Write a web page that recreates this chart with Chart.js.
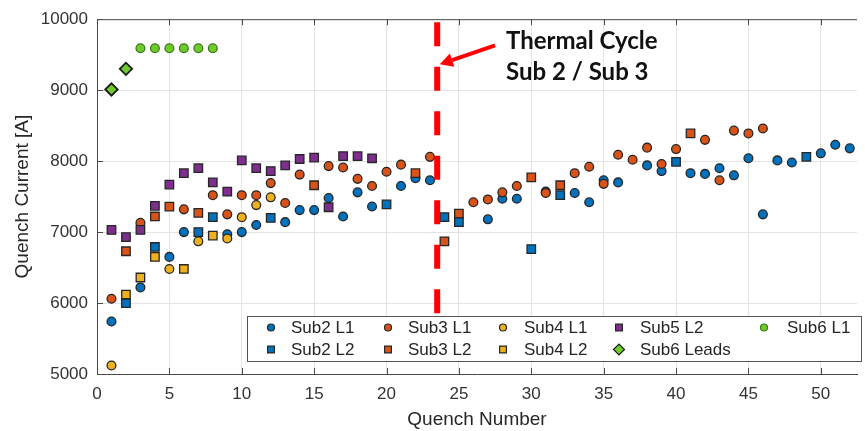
<!DOCTYPE html>
<html><head><meta charset="utf-8">
<script src="https://cdn.jsdelivr.net/npm/chart.js@4/dist/chart.umd.min.js"></script>
<style>html,body{margin:0;padding:0;background:#fff}</style>
</head><body>
<canvas id="c" width="865" height="431"></canvas>
<script>
// ---- data ----
const sub2L1X = [1,3,5,6,9,10,11,13,14,15,16,17,18,19,21,22,23,27,28,29,31,33,34,35,36,38,39,41,42,43,44,45,46,47,48,50,51,52];
const sub2L1Y = [5740,6220,6650,7000,6970,7000,7100,7140,7310,7310,7480,7220,7560,7360,7650,7760,7730,7180,7470,7470,7570,7550,7420,7730,7700,7940,7860,7830,7820,7900,7800,8040,7250,8010,7980,8110,8230,8180];
const sub2L2X = [2,4,7,8,12,20,24,25,30,32,40,49];
const sub2L2Y = [6000,6790,7000,7210,7200,7390,7210,7140,6760,7520,7990,8060];
const sub3L1X = [1,3,6,8,9,10,11,12,13,14,16,17,18,19,20,21,23,26,27,28,29,31,33,34,35,36,37,38,39,40,42,43,44,45,46];
const sub3L1Y = [6060,7130,7320,7520,7250,7520,7520,7690,7410,7810,7930,7910,7750,7650,7850,7950,8060,7420,7460,7560,7650,7550,7830,7920,7680,8090,8020,8190,7960,8170,8300,7730,8430,8390,8460];
const sub3L2X = [2,4,5,7,15,22,24,25,30,32,41];
const sub3L2Y = [6730,7220,7360,7270,7660,7830,6870,7260,7770,7660,8390];
const sub4L1X = [1,5,7,9,10,11,12];
const sub4L1Y = [5120,6480,6870,6910,7210,7380,7490];
const sub4L2X = [2,3,4,6,8];
const sub4L2Y = [6120,6360,6650,6480,6950];
const sub5L2X = [1,2,3,4,5,6,7,8,9,10,11,12,13,14,15,16,17,18,19];
const sub5L2Y = [7030,6930,7030,7370,7670,7830,7900,7700,7570,8010,7900,7860,7940,8030,8050,7350,8070,8070,8040];
const sub6L1X = [3,4,5,6,7,8];
const sub6L1Y = [9590,9590,9590,9590,9590,9590];
const sub6LeadsX = [1,2];
const sub6LeadsY = [9010,9300];

const xTicks = [0,5,10,15,20,25,30,35,40,45,50];
const yTicks = [5000,6000,7000,8000,9000,10000];
const thermalCycleX = 23.5;
const xLabel = 'Quench Number';
const yLabel = 'Quench Current [A]';
const noteLines = ['Thermal Cycle', 'Sub 2 / Sub 3'];

const toPts = (xs, ys) => xs.map((v, i) => ({x: v, y: ys[i]}));

const C = {
  blue: '#0072BD', orange: '#D95319', yellow: '#EDB120',
  purple: '#7E2F8E', green: '#6DCB2C'
};

// legend layout (row, column) and draw order (bottom -> top)
const series = [
  {label:'Sub2 L1', pts: toPts(sub2L1X, sub2L1Y), color:C.blue, style:'circle', r:4.4, row:0, col:0, z:0},
  {label:'Sub3 L1', pts: toPts(sub3L1X, sub3L1Y), color:C.orange, style:'circle', r:4.4, row:0, col:1, z:1},
  {label:'Sub4 L1', pts: toPts(sub4L1X, sub4L1Y), color:C.yellow, style:'circle', r:4.4, row:0, col:2, z:2},
  {label:'Sub5 L2', pts: toPts(sub5L2X, sub5L2Y), color:C.purple, style:'rect', r:6, row:0, col:3, z:3},
  {label:'Sub6 L1', pts: toPts(sub6L1X, sub6L1Y), color:C.green, style:'circle', r:4.4, row:0, col:4, z:4, border:'#3d7a18'},
  {label:'Sub2 L2', pts: toPts(sub2L2X, sub2L2Y), color:C.blue, style:'rect', r:6, row:1, col:0, z:6},
  {label:'Sub3 L2', pts: toPts(sub3L2X, sub3L2Y), color:C.orange, style:'rect', r:6, row:1, col:1, z:5},
  {label:'Sub4 L2', pts: toPts(sub4L2X, sub4L2Y), color:C.yellow, style:'rect', r:6, row:1, col:2, z:7},
  {label:'Sub6 Leads', pts: toPts(sub6LeadsX, sub6LeadsY), color:C.green, style:'rectRot', r:6.2, row:1, col:3, z:8, bw:1.8, border:'#1a1a1a'}
];

const datasets = series.map(s => ({
  label: s.label,
  data: s.pts,
  showLine: false,
  pointStyle: s.style,
  pointRadius: s.r,
  pointHoverRadius: s.r,
  backgroundColor: s.color,
  borderColor: s.border || '#262626',
  pointBorderWidth: s.bw || 1.3,
  borderWidth: s.bw || 1.3,
  order: 20 - s.z
}));

const FONT = '"Liberation Sans", Arial, sans-serif';

const overlay = {
  id: 'overlay',
  beforeDatasetsDraw(chart) {
    const {ctx, chartArea: a, scales: {x, y}} = chart;
    ctx.save();
    ctx.strokeStyle = '#4a4a4a';
    ctx.lineWidth = 1;
    ctx.beginPath();
    ctx.moveTo(a.left, a.top + 0.5); ctx.lineTo(a.right, a.top + 0.5);
    for (const v of xTicks) {
      const px = Math.round(x.getPixelForValue(v)) + 0.5;
      ctx.moveTo(px, a.bottom); ctx.lineTo(px, a.bottom - 6);
      ctx.moveTo(px, a.top); ctx.lineTo(px, a.top + 6);
    }
    for (const v of yTicks) {
      const py = Math.round(y.getPixelForValue(v)) + 0.5;
      ctx.moveTo(a.left, py); ctx.lineTo(a.left + 6, py);
    }
    ctx.stroke();
    ctx.restore();
  },
  afterDatasetsDraw(chart) {
    const {ctx, chartArea: a, scales: {x, y}} = chart;
    ctx.save();
    // red dashed thermal-cycle line
    const lx = x.getPixelForValue(thermalCycleX);
    ctx.strokeStyle = '#ff0000';
    ctx.lineWidth = 6;
    ctx.setLineDash([24, 20.5]);
    ctx.beginPath();
    ctx.moveTo(lx, a.top + 3); ctx.lineTo(lx, a.bottom);
    ctx.stroke();
    ctx.setLineDash([]);
    // arrow
    const tx = x.getPixelForValue(27.5), ty = y.getPixelForValue(9630);
    const hx = x.getPixelForValue(23.68), hy = y.getPixelForValue(9365);
    const ang = Math.atan2(hy - ty, hx - tx);
    const hl = 13, hw = 7;
    const bx = hx - hl * Math.cos(ang), by = hy - hl * Math.sin(ang);
    ctx.strokeStyle = '#ff0000'; ctx.fillStyle = '#ff0000';
    ctx.lineWidth = 4;
    ctx.beginPath(); ctx.moveTo(tx, ty); ctx.lineTo(bx, by); ctx.stroke();
    ctx.beginPath();
    ctx.moveTo(hx, hy);
    ctx.lineTo(bx + hw * Math.sin(ang), by - hw * Math.cos(ang));
    ctx.lineTo(bx - hw * Math.sin(ang), by + hw * Math.cos(ang));
    ctx.closePath(); ctx.fill();
    // annotation text
    ctx.fillStyle = '#111';
    ctx.font = 'bold 24px Lato, "Open Sans", sans-serif';
    ctx.textBaseline = 'alphabetic';
    ctx.textAlign = 'left';
    const nx = x.getPixelForValue(28.25);
    ctx.fillText(noteLines[0], nx, 49);
    ctx.fillText(noteLines[1], nx, 80);

    // legend box
    const L = {x: 247, y: 316, w: 614, h: 45};
    ctx.fillStyle = '#fff';
    ctx.fillRect(L.x, L.y, L.w, L.h);
    ctx.strokeStyle = '#555';
    ctx.lineWidth = 1;
    ctx.strokeRect(L.x + 0.5, L.y + 0.5, L.w, L.h);
    const mx = [271, 388, 503, 619, 764];
    const txs = [291, 408, 524, 640, 787];
    const rows = [327.5, 349.5];
    ctx.font = '17px ' + FONT;
    ctx.textBaseline = 'middle';
    for (const s of series) {
      const px = mx[s.col], py = rows[s.row];
      ctx.fillStyle = s.color;
      ctx.strokeStyle = s.border || '#262626';
      ctx.lineWidth = 1.2;
      const rr = s.style === 'circle' ? 3.5 : (s.style === 'rect' ? 4.8 : 5.5);
      Chart.helpers.drawPoint(ctx, {pointStyle: s.style, radius: rr, borderWidth: 1.2}, px, py);
      ctx.fillStyle = '#262626';
      ctx.fillText(s.label, txs[s.col], py + 1);
    }
    ctx.restore();
  }
};

new Chart(document.getElementById('c'), {
  type: 'scatter',
  data: {datasets},
  plugins: [overlay],
  options: {
    responsive: false,
    animation: false,
    events: [],
    layout: {padding: {top: 14, right: 0, left: 0, bottom: 0}},
    plugins: {legend: {display: false}, tooltip: {enabled: false}},
    scales: {
      x: {
        type: 'linear', min: 0, max: 52.5,
        afterFit: s => { s.height = 57; },
        ticks: {stepSize: 5, includeBounds: false, padding: 10, color: '#333',
                font: {family: FONT, size: 17}, maxRotation: 0,
                callback: v => String(v)},
        grid: {color: '#e3e3e3', lineWidth: 1, drawTicks: false},
        border: {display: true, color: '#4a4a4a', width: 1},
        title: {display: true, text: xLabel, color: '#262626',
                font: {family: FONT, size: 19}, padding: {top: 0, bottom: 0}}
      },
      y: {
        type: 'linear', min: 5000, max: 10000,
        afterFit: s => { s.width = 97; },
        ticks: {stepSize: 1000, padding: 9, color: '#333',
                font: {family: FONT, size: 17}, callback: v => String(v)},
        grid: {color: '#e3e3e3', lineWidth: 1, drawTicks: false},
        border: {display: true, color: '#4a4a4a', width: 1},
        title: {display: true, text: yLabel, color: '#262626',
                font: {family: FONT, size: 19}, padding: {top: 11, bottom: 0}}
      }
    }
  }
});
</script>
</body></html>
